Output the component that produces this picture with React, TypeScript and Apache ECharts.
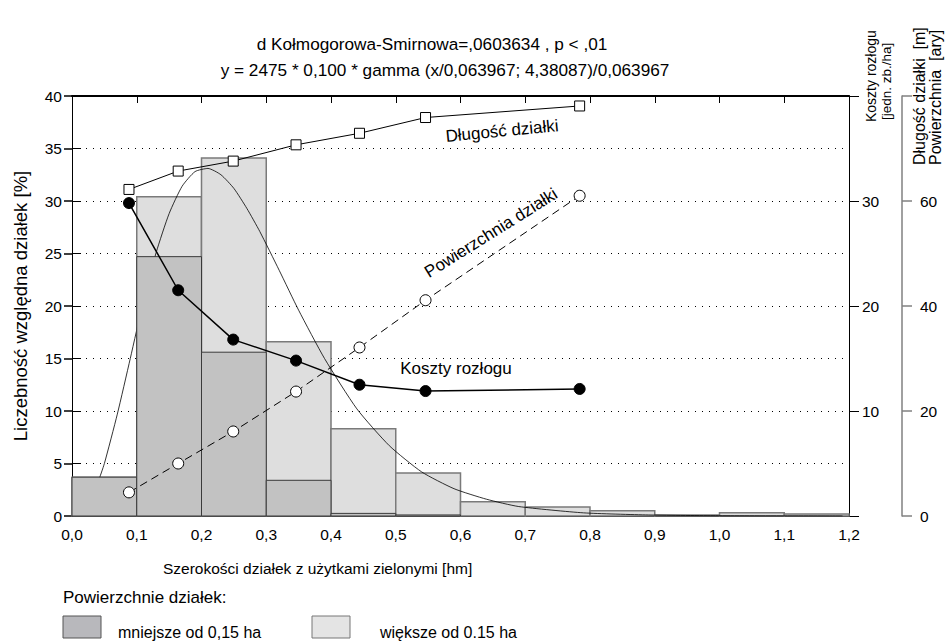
import React, { useEffect, useRef } from "react";
import * as echarts from "echarts";

// ---- data ----
const binLeft = [0.0, 0.1, 0.2, 0.3, 0.4, 0.5, 0.6, 0.7, 0.8, 0.9, 1.0, 1.1];
const binRight = [0.1, 0.2, 0.3, 0.4, 0.5, 0.6, 0.7, 0.8, 0.9, 1.0, 1.1, 1.2];
// share of plots smaller than 0.15 ha (dark)
const smallerShare = [3.7, 24.7, 15.6, 3.4, 0.25, 0.1, 0, 0, 0, 0, 0, 0];
// total share (top of light bars)
const totalShare = [3.7, 30.4, 34.1, 16.6, 8.3, 4.1, 1.35, 0.85, 0.5, 0.1, 0.3, 0.2];

// fitted gamma curve
const curveX = [0.0, 0.02, 0.03, 0.04, 0.05, 0.07, 0.09, 0.11, 0.13, 0.15, 0.17, 0.19, 0.21, 0.23, 0.25, 0.27, 0.29, 0.32, 0.35, 0.39, 0.44, 0.49, 0.54, 0.59, 0.64, 0.69, 0.79, 0.89, 0.99, 1.19];
const curveY = [0, 0.6, 1.7, 3.2, 5.0, 9.7, 15.0, 20.4, 25.1, 28.8, 31.4, 32.8, 33.1, 32.5, 31.2, 29.3, 27.1, 23.4, 19.6, 15.0, 10.2, 6.7, 4.2, 2.6, 1.6, 0.9, 0.3, 0.1, 0.03, 0.0];

// mean widths of classes
const meanWidth = [0.088, 0.164, 0.249, 0.346, 0.444, 0.546, 0.784];
const costs = [29.8, 21.5, 16.8, 14.8, 12.5, 11.9, 12.1]; // Koszty rozłogu
const plotLength = [62.2, 65.7, 67.6, 70.7, 72.9, 75.9, 78.1]; // Długość działki [m]
const plotArea = [4.5, 10.0, 16.1, 23.7, 32.1, 41.1, 61.0]; // Powierzchnia [ary]

const FONT = "Liberation Sans, Arial, Helvetica, sans-serif";

function pairs(xs: number[], ys: number[]) {
  return xs.map((x, i) => [x, ys[i]]);
}

function barRender(fill: string, stroke: string, lw: number) {
  return (params: any, api: any) => {
    const x0 = api.value(0);
    const x1 = api.value(1);
    const v = api.value(2);
    if (!(v > 0)) return null;
    const p0 = api.coord([x0, 0]);
    const p1 = api.coord([x1, v]);
    return {
      type: "rect",
      shape: { x: p0[0], y: p1[1], width: p1[0] - p0[0], height: p0[1] - p1[1] },
      style: { fill, stroke, lineWidth: lw },
    };
  };
}

function label(text: string, x: number, y: number, size: number, extra: any = {}) {
  return {
    type: "text",
    x,
    y,
    ...extra,
    style: { text, font: `${size}px ${FONT}`, fill: "#000", align: extra.align || "center", verticalAlign: "middle" },
  };
}

export default function App() {
  const ref = useRef<HTMLDivElement>(null);
  useEffect(() => {
    document.body.style.margin = "0";
    const chart = echarts.init(ref.current!, undefined, { renderer: "svg" });
    const txt = { fontFamily: FONT, color: "#000" };
    const R90 = Math.PI / 2;
    const option: any = {
      animation: false,
      backgroundColor: "#fff",
      textStyle: { fontFamily: FONT },
      grid: { left: 72, right: 102, top: 96, bottom: 126, containLabel: false },
      xAxis: [
        {
          type: "value", min: 0, max: 1.2, interval: 0.1, position: "bottom",
          axisLine: { show: true, onZero: false, lineStyle: { color: "#000", width: 1 } },
          axisTick: { show: false },
          axisLabel: { ...txt, fontSize: 15.5, margin: 10, formatter: (v: number) => v.toFixed(1).replace(".", ",") },
          splitLine: { show: false },
        },
        {
          type: "value", min: 0, max: 1.2, interval: 0.1, position: "top",
          axisLine: { show: true, onZero: false, lineStyle: { color: "#000", width: 2 } },
          axisTick: { show: true, inside: true, length: 7, lineStyle: { color: "#000" } },
          axisLabel: { show: false },
          splitLine: { show: false },
        },
      ],
      yAxis: [
        {
          type: "value", min: 0, max: 40, interval: 5, position: "left",
          axisLine: { show: true, onZero: false, lineStyle: { color: "#000", width: 1 } },
          axisTick: { show: true, inside: true, length: 9, lineStyle: { color: "#000" } },
          axisLabel: { ...txt, fontSize: 15.5, margin: 10 },
          splitLine: { show: true, lineStyle: { color: "#000", type: [1, 6], width: 1 } },
        },
        {
          type: "value", min: 0, max: 40, interval: 10, position: "right",
          axisLine: { show: true, onZero: false, lineStyle: { color: "#000", width: 1 } },
          axisTick: { show: true, inside: false, length: 10, lineStyle: { color: "#000" } },
          axisLabel: { ...txt, fontSize: 15.5, margin: 13, formatter: (v: number) => (v > 0 && v < 40 ? String(v) : "") },
          splitLine: { show: false },
        },
        {
          type: "value", min: 0, max: 80, interval: 20, position: "right", offset: 53,
          axisLine: { show: true, onZero: false, lineStyle: { color: "#808080", width: 1.5 } },
          axisTick: { show: true, inside: false, length: 10, lineStyle: { color: "#808080", width: 1.5 } },
          axisLabel: { ...txt, fontSize: 15.5, margin: 18, formatter: (v: number) => (v < 80 ? String(v) : "") },
          splitLine: { show: false },
        },
        {
          type: "value", min: 0, max: 40, interval: 5, position: "right",
          axisLine: { show: false },
          axisTick: { show: true, inside: true, length: 8, lineStyle: { color: "#000", width: 1.5 } },
          axisLabel: { show: false },
          splitLine: { show: false },
        },
      ],
      series: [
        {
          name: "większe od 0.15 ha", type: "custom", xAxisIndex: 0, yAxisIndex: 0, z: 1,
          renderItem: barRender("#dedede", "#7a7a7a", 1.5),
          encode: { x: [0, 1], y: 2 },
          data: binLeft.map((l, i) => [l, binRight[i], totalShare[i]]),
        },
        {
          name: "gamma", type: "line", xAxisIndex: 0, yAxisIndex: 0, z: 2,
          showSymbol: false, symbol: "none", smooth: 0.2,
          lineStyle: { color: "#000", width: 0.8 },
          data: pairs(curveX, curveY),
        },
        {
          name: "mniejsze od 0,15 ha", type: "custom", xAxisIndex: 0, yAxisIndex: 0, z: 3,
          renderItem: barRender("#c2c2c2", "#3a3a3a", 1),
          encode: { x: [0, 1], y: 2 },
          data: binLeft.map((l, i) => [l, binRight[i], smallerShare[i]]),
        },
        {
          name: "Powierzchnia działki", type: "line", xAxisIndex: 0, yAxisIndex: 2, z: 4,
          symbol: "circle", symbolSize: 11,
          lineStyle: { color: "#000", width: 1, type: [8, 5] },
          itemStyle: { color: "#fff", borderColor: "#000", borderWidth: 1 },
          data: pairs(meanWidth, plotArea),
        },
        {
          name: "Koszty rozłogu", type: "line", xAxisIndex: 0, yAxisIndex: 1, z: 5,
          symbol: "circle", symbolSize: 11,
          lineStyle: { color: "#000", width: 1.5 },
          itemStyle: { color: "#000", borderColor: "#000", borderWidth: 1 },
          data: pairs(meanWidth, costs),
        },
        {
          name: "Długość działki", type: "line", xAxisIndex: 0, yAxisIndex: 2, z: 5,
          symbol: "rect", symbolSize: 10,
          lineStyle: { color: "#000", width: 1 },
          itemStyle: { color: "#fff", borderColor: "#000", borderWidth: 1 },
          data: pairs(meanWidth, plotLength),
        },
      ],
      graphic: [
        label("d Kołmogorowa-Smirnowa=,0603634 , p < ,01", 432, 44, 17.2),
        label("y = 2475 * 0,100 * gamma (x/0,063967; 4,38087)/0,063967", 445, 70, 17.2),
        label("Liczebność względna działek [%]", 20, 306, 18.5, { rotation: R90 }),
        label("Szerokości działek z użytkami zielonymi [hm]", 163, 568, 15.5, { align: "left" }),
        label("Koszty rozłogu", 871, 122, 14, { rotation: R90, align: "left" }),
        label("[jedn. zb./ha]", 886, 120, 13.5, { rotation: R90, align: "left" }),
        label("Długość działki  [m]", 919, 165, 16, { rotation: R90, align: "left" }),
        label("Powierzchnia  [ary]", 935, 165, 16, { rotation: R90, align: "left" }),
        label("Długość działki", 502, 131, 17, { rotation: (5.5 * Math.PI) / 180 }),
        label("Powierzchnia działki", 491, 233, 17, { rotation: (32 * Math.PI) / 180 }),
        label("Koszty rozłogu", 456, 368, 17),
        label("Powierzchnie działek:", 63, 597, 17, { align: "left" }),
        { type: "rect", shape: { x: 63, y: 616, width: 38, height: 22 }, style: { fill: "#b8b8bc", stroke: "#555", lineWidth: 1 } },
        label("mniejsze od 0,15 ha", 118, 632, 16, { align: "left" }),
        { type: "rect", shape: { x: 312, y: 616, width: 38, height: 22 }, style: { fill: "#e4e4e4", stroke: "#777", lineWidth: 1 } },
        label("większe od 0.15 ha", 380, 632, 16, { align: "left" }),
      ],
    };
    chart.setOption(option);
    return () => chart.dispose();
  }, []);
  return <div ref={ref} style={{ position: "fixed", left: 0, top: 0, width: 951, height: 642 }} />;
}
